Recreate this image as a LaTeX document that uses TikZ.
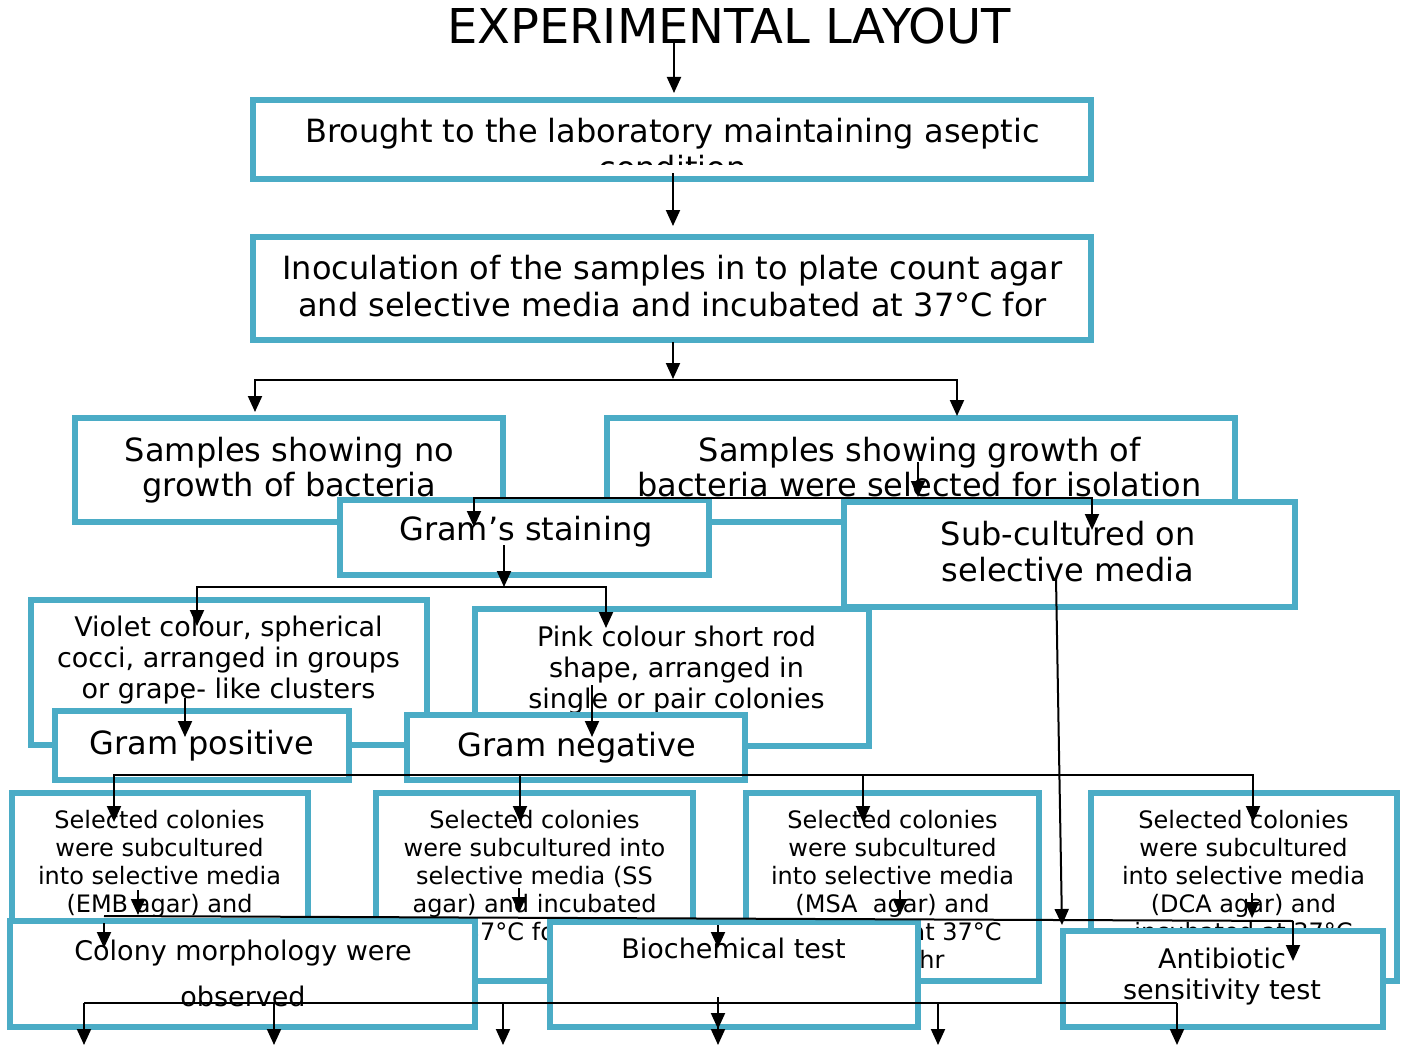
\documentclass[tikz,border=0pt]{standalone}
\usepackage{fontspec}
\setmainfont{DejaVu Sans}
\usetikzlibrary{arrows.meta}
\definecolor{boxcyan}{HTML}{4BACC6}
\begin{document}
\begin{tikzpicture}[x=1pt, y=-1pt,
  box/.style={draw=boxcyan, line width=6pt, fill=white, inner sep=0pt, rectangle},
  big/.style={font=\fontsize{32}{37}\selectfont, align=center, anchor=base, inner sep=0pt},
  mid/.style={font=\fontsize{27}{31}\selectfont, align=center, anchor=base, inner sep=0pt},
  small/.style={font=\fontsize{24}{28}\selectfont, align=center, anchor=base, inner sep=0pt},
  ln/.style={line width=2pt},
  arr/.style={ln, -{Triangle[width=14pt,length=16pt]}},
  arrtwo/.style={ln, {Triangle[width=14pt,length=16pt]}-{Triangle[width=14pt,length=16pt]}}]
\useasboundingbox (0,0) rectangle (1403,1046);
% title
\node[font=\fontsize{48}{52}\selectfont, anchor=base, inner sep=0pt] (title) at (729,43.3) {EXPERIMENTAL LAYOUT};
% top boxes
\node[box, minimum width=838, minimum height=79] (bring) at (672,139.5) {};
\begin{scope}
\clip (253,100) rectangle (1091,165);
\node[big] (tbring) at (672.5,179.7) {Brought to the laboratory maintaining aseptic\\condition};
\end{scope}
\node[box, minimum width=838, minimum height=103] (inoc) at (672,288.5) {};
\node[big, font=\fontsize{32}{37.4}\selectfont] (tinoc) at (672.5,316.7) {Inoculation of the samples in to plate count agar\\and selective media and incubated at 37°C for};
% growth / no growth
\node[box, minimum width=428, minimum height=104] (nogrow) at (289,470) {};
\node[big, font=\fontsize{32}{35}\selectfont] (tnogrow) at (289.5,496.7) {Samples showing no\\growth of bacteria};
\node[box, minimum width=628, minimum height=104] (grow) at (921,470) {};
\node[big, font=\fontsize{32}{35}\selectfont] (tgrow) at (919.5,496.7) {Samples showing growth of\\bacteria were selected for isolation};
\node[box, minimum width=369, minimum height=75] (gram) at (524.5,537.5) {};
\node[big] (tgram) at (526,540) {Gram’s staining};
\node[box, minimum width=451, minimum height=105] (sub) at (1069.5,554.5) {};
\node[big, font=\fontsize{32}{36.7}\selectfont] (tsub) at (1068,581.7) {Sub-cultured on\\selective media};
% cell shapes
\node[box, minimum width=396, minimum height=145] (violet) at (229,672.5) {};
\node[mid, font=\fontsize{27}{30.8}\selectfont] (tviolet) at (228.5,698.3) {Violet colour, spherical\\cocci, arranged in groups\\or grape- like clusters};
\node[box, minimum width=394, minimum height=137] (pink) at (672,677.5) {};
\node[mid, font=\fontsize{27}{30.8}\selectfont] (tpink) at (676.5,708.3) {Pink colour short rod\\shape, arranged in\\single or pair colonies};
\node[box, minimum width=294, minimum height=69] (gpos) at (202,745.5) {};
\node[big] (tgpos) at (202,754) {Gram positive};
\node[box, minimum width=338, minimum height=65] (gneg) at (576,747.5) {};
\node[big] (tgneg) at (577,756) {Gram negative};
% selective media
\node[box, minimum width=296, minimum height=188] (emb) at (160,887) {};
\node[small] (temb) at (159.5,912.3) {Selected colonies\\were subcultured\\into selective media\\(EMB agar) and};
\node[box, minimum width=317, minimum height=188] (ss) at (534.5,887) {};
\node[small] (tss) at (534.5,940.3) {Selected colonies\\were subcultured into\\selective media (SS\\agar) and incubated\\at 37°C for 24 hr};
\node[box, minimum width=293, minimum height=188] (msa) at (892.5,887) {};
\node[small] (tmsa) at (892.5,968.3) {Selected colonies\\were subcultured\\into selective media\\(MSA\ \ agar) and\\incubated at 37°C\\for 24 hr};
\node[box, minimum width=306, minimum height=188] (dca) at (1244,887) {};
\node[small] (tdca) at (1243.5,940.3) {Selected colonies\\were subcultured\\into selective media\\(DCA agar) and\\incubated at 37°C};
% tests
\node[box, minimum width=465, minimum height=106] (colony) at (242.5,974) {};
\node[mid, font=\fontsize{27}{46}\selectfont] (tcolony) at (243,1006) {Colony morphology were\\observed};
\node[box, minimum width=368, minimum height=105] (bio) at (734,974.5) {};
\node[mid] (tbio) at (733.5,958.5) {Biochemical test};
\node[box, minimum width=320, minimum height=96] (anti) at (1223,979) {};
\node[mid] (tanti) at (1222,999) {Antibiotic\\sensitivity test};
% connectors
\coordinate (a0) at (674,42);   \coordinate (a1) at (674,93);
\coordinate (b0) at (673,173);  \coordinate (b1) at (673,226);
\coordinate (c0) at (673,342);  \coordinate (c1) at (673,379);
\draw[arr] (a0) -- (a1);
\draw[arr] (b0) -- (b1);
\draw[arr] (c0) -- (c1);
\coordinate (sl) at (255,380);  \coordinate (sr) at (957,380);
\draw[arrtwo] (255,412) -- (sl) -- (sr) -- (957,416);
\coordinate (d0) at (918,462);  \coordinate (d1) at (918,497);
\draw[arr] (d0) -- (d1);
\coordinate (el) at (474,498);  \coordinate (er) at (1092,498);
\draw[arrtwo] (474,527) -- (el) -- (er) -- (1092,530);
\coordinate (f0) at (504,545);  \coordinate (f1) at (504,587);
\draw[arr] (f0) -- (f1);
\coordinate (gl) at (197,587);  \coordinate (gr) at (606,587);
\draw[arrtwo] (197,626) -- (gl) -- (gr) -- (606,628);
\coordinate (h0) at (185,698);  \coordinate (h1) at (185,737);
\draw[arr] (h0) -- (h1);
\coordinate (i0) at (592,685);  \coordinate (i1) at (592,737);
\draw[arr] (i0) -- (i1);
\coordinate (jl) at (114,775);  \coordinate (jr) at (1253,775);
\draw[arrtwo] (114,822) -- (jl) -- (jr) -- (1253,822);
\foreach \x in {520,863}
  \draw[arr] (\x,775) -- (\x,822);
\coordinate (k0) at (1056,578); \coordinate (k1) at (1062,925);
\draw[arr] (k0) -- (k1);
\foreach \x/\y in {138/915,519/913,900/915,1252/918}
  \draw[arr] (\x,\y-25) -- (\x,\y);
\coordinate (ml) at (104,916);  \coordinate (mr) at (1293,921);
\draw[ln] (ml) -- (mr);
\draw[arr] (104,923) -- (104,948);
\draw[arr] (718,925) -- (718,948);
\draw[arr] (mr) -- (1293,961);
\coordinate (nl) at (84,1003);  \coordinate (nr) at (1177,1003);
\draw[ln] (nl) -- (nr);
\foreach \x in {84,274,503,718,938,1177}
  \draw[arr] (\x,1003) -- (\x,1045);
\draw[arr] (718,997) -- (718,1029);
\end{tikzpicture}
\end{document}
